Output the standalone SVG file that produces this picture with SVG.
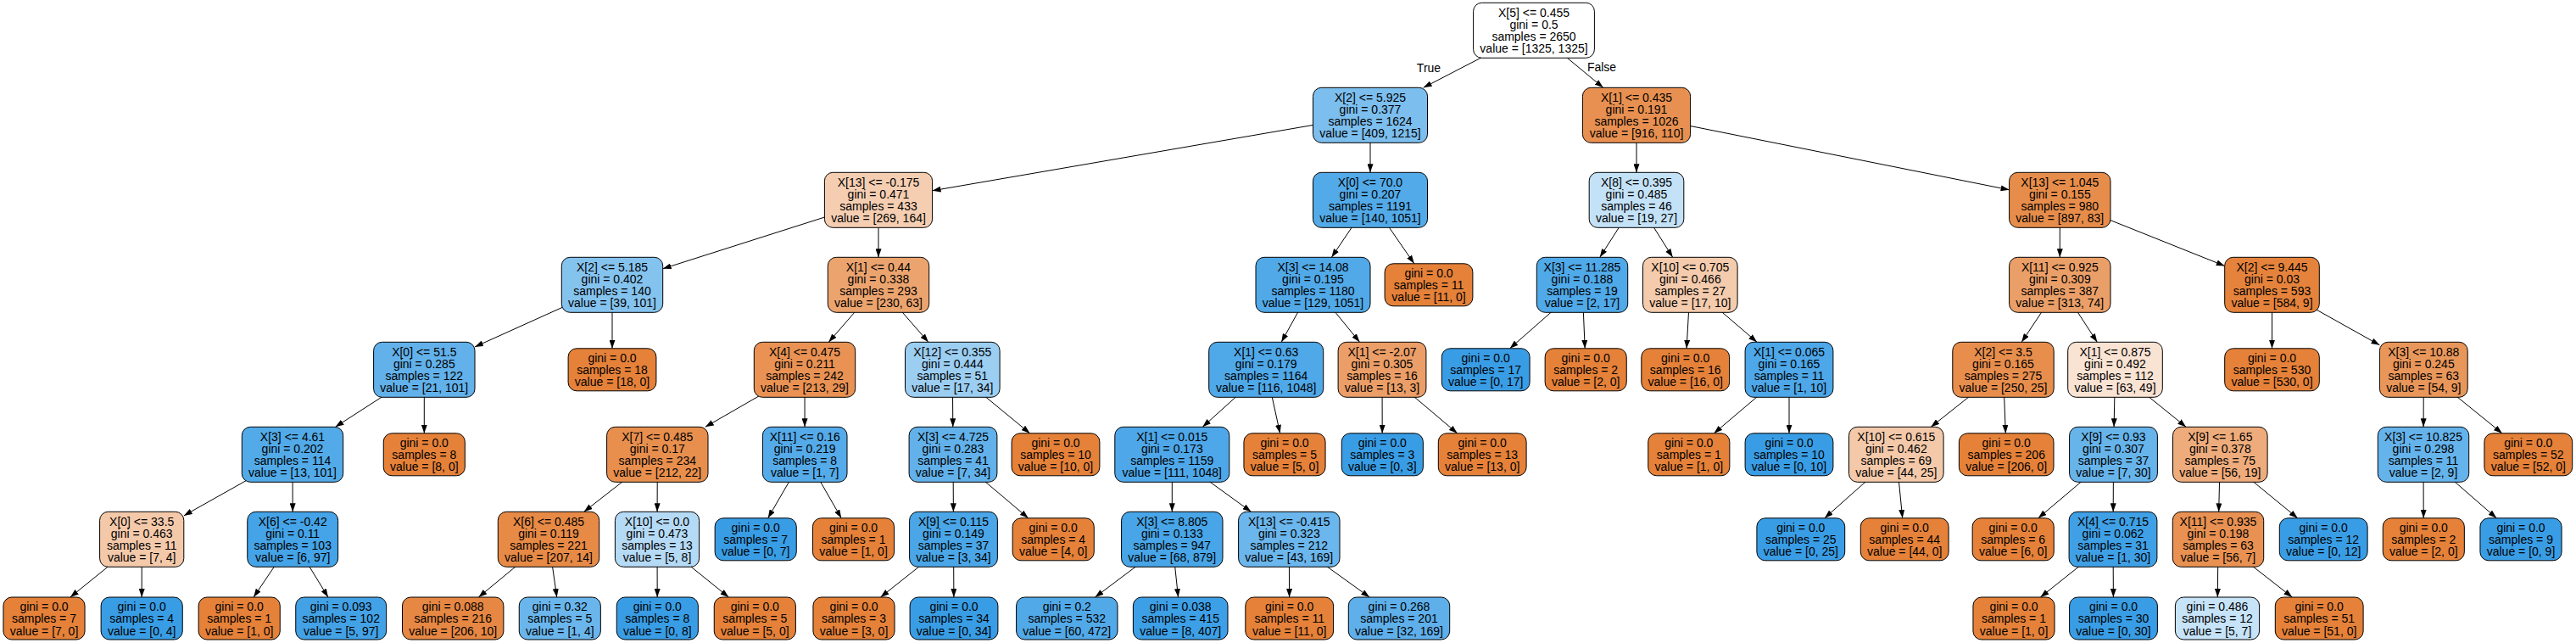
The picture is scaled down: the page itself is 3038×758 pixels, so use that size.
<svg xmlns="http://www.w3.org/2000/svg" width="3038" height="758" viewBox="0 0 3038 758">
<style>
rect{stroke:#000;stroke-width:1;rx:10px;ry:10px}
text{font-family:"Liberation Sans",Arial,Helvetica,sans-serif;font-size:14px;fill:#000;text-anchor:middle}
.e line{stroke:#000;stroke-width:1;marker-end:url(#arr)}
.o{fill:#e58139}.b{fill:#399de5}
</style>
<defs>
<marker id="arr" viewBox="0 0 10 7" markerWidth="10" markerHeight="7" refX="10" refY="3.5" orient="auto" markerUnits="userSpaceOnUse"><path d="M0,0 L10,3.5 L0,7 z" fill="#000"/></marker>
</defs>
<rect x="0" y="0" width="3038" height="758" style="fill:#fff;stroke:none;rx:0;ry:0"/>
<g class="e" id="edges">
<line x1="1809" y1="35.8" x2="1678.7" y2="103.3"/>
<line x1="1809" y1="35.8" x2="1890.7" y2="103.3"/>
<line x1="1616" y1="135.8" x2="1099.6" y2="224.8"/>
<line x1="1616" y1="135.8" x2="1616" y2="203.3"/>
<line x1="1930" y1="135.8" x2="1930" y2="203.3"/>
<line x1="1930" y1="135.8" x2="2369.6" y2="223.8"/>
<line x1="1036" y1="235.8" x2="781.7" y2="316.8"/>
<line x1="1036" y1="235.8" x2="1036" y2="303.3"/>
<line x1="1616" y1="235.8" x2="1570.4" y2="303.3"/>
<line x1="1616" y1="235.8" x2="1667.8" y2="310.8"/>
<line x1="1930" y1="235.8" x2="1886.8" y2="303.3"/>
<line x1="1930" y1="235.8" x2="1972.7" y2="303.3"/>
<line x1="2429.3" y1="235.8" x2="2429.3" y2="303.3"/>
<line x1="2429.3" y1="235.8" x2="2623.7" y2="313.5"/>
<line x1="722" y1="335.8" x2="560" y2="408.9"/>
<line x1="722" y1="335.8" x2="722" y2="410.8"/>
<line x1="1036" y1="335.8" x2="977.3" y2="403.3"/>
<line x1="1036" y1="335.8" x2="1094.9" y2="403.3"/>
<line x1="1548.5" y1="335.8" x2="1511.2" y2="403.3"/>
<line x1="1548.5" y1="335.8" x2="1603.5" y2="403.3"/>
<line x1="1866" y1="335.8" x2="1780.7" y2="410.8"/>
<line x1="1866" y1="335.8" x2="1869.2" y2="410.8"/>
<line x1="1993.3" y1="335.8" x2="1989.1" y2="410.8"/>
<line x1="1993.3" y1="335.8" x2="2072.1" y2="403.3"/>
<line x1="2429.3" y1="335.8" x2="2384.2" y2="403.3"/>
<line x1="2429.3" y1="335.8" x2="2473.3" y2="403.3"/>
<line x1="2679.5" y1="335.8" x2="2679.5" y2="410.8"/>
<line x1="2679.5" y1="335.8" x2="2806.4" y2="406.8"/>
<line x1="500.3" y1="435.8" x2="395.5" y2="503.3"/>
<line x1="500.3" y1="435.8" x2="500.3" y2="510.8"/>
<line x1="949" y1="435.8" x2="831.8" y2="503.3"/>
<line x1="949" y1="435.8" x2="949.1" y2="503.3"/>
<line x1="1123.3" y1="435.8" x2="1123.8" y2="503.3"/>
<line x1="1123.3" y1="435.8" x2="1214.6" y2="510.8"/>
<line x1="1493.2" y1="435.8" x2="1418.3" y2="503.3"/>
<line x1="1493.2" y1="435.8" x2="1509.6" y2="510.8"/>
<line x1="1630" y1="435.8" x2="1630.2" y2="510.8"/>
<line x1="1630" y1="435.8" x2="1718.7" y2="510.8"/>
<line x1="2110" y1="435.8" x2="2021.4" y2="510.8"/>
<line x1="2110" y1="435.8" x2="2110" y2="510.8"/>
<line x1="2362.5" y1="435.8" x2="2277.3" y2="503.3"/>
<line x1="2362.5" y1="435.8" x2="2365.3" y2="510.8"/>
<line x1="2494.5" y1="435.8" x2="2493.1" y2="503.3"/>
<line x1="2494.5" y1="435.8" x2="2578.1" y2="503.3"/>
<line x1="2858.3" y1="435.8" x2="2858.1" y2="503.3"/>
<line x1="2858.3" y1="435.8" x2="2950.9" y2="510.8"/>
<line x1="345" y1="535.8" x2="216.8" y2="607.9"/>
<line x1="345" y1="535.8" x2="345.2" y2="603.3"/>
<line x1="775.3" y1="535.8" x2="688.7" y2="603.3"/>
<line x1="775.3" y1="535.8" x2="775.1" y2="603.3"/>
<line x1="949.2" y1="535.8" x2="905.7" y2="610.8"/>
<line x1="949.2" y1="535.8" x2="992.2" y2="610.8"/>
<line x1="1124" y1="535.8" x2="1124.4" y2="603.3"/>
<line x1="1124" y1="535.8" x2="1212.7" y2="610.8"/>
<line x1="1382.3" y1="535.8" x2="1382.3" y2="603.3"/>
<line x1="1382.3" y1="535.8" x2="1475.5" y2="603.3"/>
<line x1="2236.3" y1="535.8" x2="2151.9" y2="610.8"/>
<line x1="2236.3" y1="535.8" x2="2243.7" y2="610.8"/>
<line x1="2492.5" y1="535.8" x2="2403.8" y2="610.8"/>
<line x1="2492.5" y1="535.8" x2="2492.2" y2="603.3"/>
<line x1="2618.3" y1="535.8" x2="2616.7" y2="603.3"/>
<line x1="2618.3" y1="535.8" x2="2709.7" y2="610.8"/>
<line x1="2858" y1="535.8" x2="2858.2" y2="610.8"/>
<line x1="2858" y1="535.8" x2="2944.3" y2="610.8"/>
<line x1="167.2" y1="635.8" x2="82.9" y2="704"/>
<line x1="167.2" y1="635.8" x2="167.2" y2="704"/>
<line x1="345.2" y1="635.8" x2="299.1" y2="704"/>
<line x1="345.2" y1="635.8" x2="387" y2="704"/>
<line x1="647" y1="635.8" x2="564.4" y2="704"/>
<line x1="647" y1="635.8" x2="656.7" y2="704"/>
<line x1="775" y1="635.8" x2="775.2" y2="704"/>
<line x1="775" y1="635.8" x2="859.4" y2="704"/>
<line x1="1124.5" y1="635.8" x2="1038.5" y2="704"/>
<line x1="1124.5" y1="635.8" x2="1124.9" y2="704"/>
<line x1="1382.3" y1="635.8" x2="1291.5" y2="704"/>
<line x1="1382.3" y1="635.8" x2="1389.5" y2="704"/>
<line x1="1520.3" y1="635.8" x2="1520.6" y2="704"/>
<line x1="1520.3" y1="635.8" x2="1615.2" y2="704"/>
<line x1="2492" y1="635.8" x2="2406.4" y2="704"/>
<line x1="2492" y1="635.8" x2="2492.4" y2="704"/>
<line x1="2616" y1="635.8" x2="2615.3" y2="704"/>
<line x1="2616" y1="635.8" x2="2703.3" y2="704"/>
<text x="1685" y="85">True</text>
<text x="1889" y="84">False</text>
</g>
<g id="n0"><rect x="1737.6" y="3.3" width="142.8" height="65" fill="#ffffff"/><text><tspan x="1809" y="20">X[5] &lt;= 0.455</tspan><tspan x="1809" y="34.1">gini = 0.5</tspan><tspan x="1809" y="48.2">samples = 2650</tspan><tspan x="1809" y="62.3">value = [1325, 1325]</tspan></text></g>
<g id="n1"><rect x="1548.5" y="103.3" width="135" height="65" fill="#7cbeee"/><text><tspan x="1616" y="120">X[2] &lt;= 5.925</tspan><tspan x="1616" y="134.1">gini = 0.377</tspan><tspan x="1616" y="148.2">samples = 1624</tspan><tspan x="1616" y="162.3">value = [409, 1215]</tspan></text></g>
<g id="n2"><rect x="1866.4" y="103.3" width="127.2" height="65" fill="#e89051"/><text><tspan x="1930" y="120">X[1] &lt;= 0.435</tspan><tspan x="1930" y="134.1">gini = 0.191</tspan><tspan x="1930" y="148.2">samples = 1026</tspan><tspan x="1930" y="162.3">value = [916, 110]</tspan></text></g>
<g id="n3"><rect x="972.4" y="203.3" width="127.2" height="65" fill="#f5ceb2"/><text><tspan x="1036" y="220">X[13] &lt;= -0.175</tspan><tspan x="1036" y="234.1">gini = 0.471</tspan><tspan x="1036" y="248.2">samples = 433</tspan><tspan x="1036" y="262.3">value = [269, 164]</tspan></text></g>
<g id="n4"><rect x="1548.5" y="203.3" width="135" height="65" fill="#53aae8"/><text><tspan x="1616" y="220">X[0] &lt;= 70.0</tspan><tspan x="1616" y="234.1">gini = 0.207</tspan><tspan x="1616" y="248.2">samples = 1191</tspan><tspan x="1616" y="262.3">value = [140, 1051]</tspan></text></g>
<g id="n5"><rect x="1874.2" y="203.3" width="111.6" height="65" fill="#c4e2f7"/><text><tspan x="1930" y="220">X[8] &lt;= 0.395</tspan><tspan x="1930" y="234.1">gini = 0.485</tspan><tspan x="1930" y="248.2">samples = 46</tspan><tspan x="1930" y="262.3">value = [19, 27]</tspan></text></g>
<g id="n6"><rect x="2369.6" y="203.3" width="119.4" height="65" fill="#e78d4b"/><text><tspan x="2429.3" y="220">X[13] &lt;= 1.045</tspan><tspan x="2429.3" y="234.1">gini = 0.155</tspan><tspan x="2429.3" y="248.2">samples = 980</tspan><tspan x="2429.3" y="262.3">value = [897, 83]</tspan></text></g>
<g id="n7"><rect x="662.3" y="303.3" width="119.4" height="65" fill="#85c3ef"/><text><tspan x="722" y="320">X[2] &lt;= 5.185</tspan><tspan x="722" y="334.1">gini = 0.402</tspan><tspan x="722" y="348.2">samples = 140</tspan><tspan x="722" y="362.3">value = [39, 101]</tspan></text></g>
<g id="n8"><rect x="976.3" y="303.3" width="119.4" height="65" fill="#eca46f"/><text><tspan x="1036" y="320">X[1] &lt;= 0.44</tspan><tspan x="1036" y="334.1">gini = 0.338</tspan><tspan x="1036" y="348.2">samples = 293</tspan><tspan x="1036" y="362.3">value = [230, 63]</tspan></text></g>
<g id="n9"><rect x="1481" y="303.3" width="135" height="65" fill="#51a9e8"/><text><tspan x="1548.5" y="320">X[3] &lt;= 14.08</tspan><tspan x="1548.5" y="334.1">gini = 0.195</tspan><tspan x="1548.5" y="348.2">samples = 1180</tspan><tspan x="1548.5" y="362.3">value = [129, 1051]</tspan></text></g>
<g id="n10"><rect class="o" x="1633.1" y="310.8" width="103.8" height="50"/><text><tspan x="1685" y="327.1">gini = 0.0</tspan><tspan x="1685" y="341.2">samples = 11</tspan><tspan x="1685" y="355.3">value = [11, 0]</tspan></text></g>
<g id="n11"><rect x="1812.3" y="303.3" width="107.4" height="65" fill="#50a9e8"/><text><tspan x="1866" y="320">X[3] &lt;= 11.285</tspan><tspan x="1866" y="334.1">gini = 0.188</tspan><tspan x="1866" y="348.2">samples = 19</tspan><tspan x="1866" y="362.3">value = [2, 17]</tspan></text></g>
<g id="n12"><rect x="1937.5" y="303.3" width="111.6" height="65" fill="#f4cbad"/><text><tspan x="1993.3" y="320">X[10] &lt;= 0.705</tspan><tspan x="1993.3" y="334.1">gini = 0.466</tspan><tspan x="1993.3" y="348.2">samples = 27</tspan><tspan x="1993.3" y="362.3">value = [17, 10]</tspan></text></g>
<g id="n13"><rect x="2369.6" y="303.3" width="119.4" height="65" fill="#eb9f68"/><text><tspan x="2429.3" y="320">X[11] &lt;= 0.925</tspan><tspan x="2429.3" y="334.1">gini = 0.309</tspan><tspan x="2429.3" y="348.2">samples = 387</tspan><tspan x="2429.3" y="362.3">value = [313, 74]</tspan></text></g>
<g id="n14"><rect x="2623.7" y="303.3" width="111.6" height="65" fill="#e5833c"/><text><tspan x="2679.5" y="320">X[2] &lt;= 9.445</tspan><tspan x="2679.5" y="334.1">gini = 0.03</tspan><tspan x="2679.5" y="348.2">samples = 593</tspan><tspan x="2679.5" y="362.3">value = [584, 9]</tspan></text></g>
<g id="n15"><rect x="440.6" y="403.3" width="119.4" height="65" fill="#62b1ea"/><text><tspan x="500.3" y="420">X[0] &lt;= 51.5</tspan><tspan x="500.3" y="434.1">gini = 0.285</tspan><tspan x="500.3" y="448.2">samples = 122</tspan><tspan x="500.3" y="462.3">value = [21, 101]</tspan></text></g>
<g id="n16"><rect class="o" x="670.1" y="410.8" width="103.8" height="50"/><text><tspan x="722" y="427.1">gini = 0.0</tspan><tspan x="722" y="441.2">samples = 18</tspan><tspan x="722" y="455.3">value = [18, 0]</tspan></text></g>
<g id="n17"><rect x="889.3" y="403.3" width="119.4" height="65" fill="#e99254"/><text><tspan x="949" y="420">X[4] &lt;= 0.475</tspan><tspan x="949" y="434.1">gini = 0.211</tspan><tspan x="949" y="448.2">samples = 242</tspan><tspan x="949" y="462.3">value = [213, 29]</tspan></text></g>
<g id="n18"><rect x="1067.5" y="403.3" width="111.6" height="65" fill="#9ccef2"/><text><tspan x="1123.3" y="420">X[12] &lt;= 0.355</tspan><tspan x="1123.3" y="434.1">gini = 0.444</tspan><tspan x="1123.3" y="448.2">samples = 51</tspan><tspan x="1123.3" y="462.3">value = [17, 34]</tspan></text></g>
<g id="n19"><rect x="1425.7" y="403.3" width="135" height="65" fill="#4fa8e8"/><text><tspan x="1493.2" y="420">X[1] &lt;= 0.63</tspan><tspan x="1493.2" y="434.1">gini = 0.179</tspan><tspan x="1493.2" y="448.2">samples = 1164</tspan><tspan x="1493.2" y="462.3">value = [116, 1048]</tspan></text></g>
<g id="n20"><rect x="1578.1" y="403.3" width="103.8" height="65" fill="#eb9e67"/><text><tspan x="1630" y="420">X[1] &lt;= -2.07</tspan><tspan x="1630" y="434.1">gini = 0.305</tspan><tspan x="1630" y="448.2">samples = 16</tspan><tspan x="1630" y="462.3">value = [13, 3]</tspan></text></g>
<g id="n21"><rect class="b" x="1700.3" y="410.8" width="103.8" height="50"/><text><tspan x="1752.2" y="427.1">gini = 0.0</tspan><tspan x="1752.2" y="441.2">samples = 17</tspan><tspan x="1752.2" y="455.3">value = [0, 17]</tspan></text></g>
<g id="n22"><rect class="o" x="1822.15" y="410.8" width="96.1" height="50"/><text><tspan x="1870.2" y="427.1">gini = 0.0</tspan><tspan x="1870.2" y="441.2">samples = 2</tspan><tspan x="1870.2" y="455.3">value = [2, 0]</tspan></text></g>
<g id="n23"><rect class="o" x="1935.8" y="410.8" width="103.8" height="50"/><text><tspan x="1987.7" y="427.1">gini = 0.0</tspan><tspan x="1987.7" y="441.2">samples = 16</tspan><tspan x="1987.7" y="455.3">value = [16, 0]</tspan></text></g>
<g id="n24"><rect x="2058.1" y="403.3" width="103.8" height="65" fill="#4da7e8"/><text><tspan x="2110" y="420">X[1] &lt;= 0.065</tspan><tspan x="2110" y="434.1">gini = 0.165</tspan><tspan x="2110" y="448.2">samples = 11</tspan><tspan x="2110" y="462.3">value = [1, 10]</tspan></text></g>
<g id="n25"><rect x="2302.8" y="403.3" width="119.4" height="65" fill="#e88e4d"/><text><tspan x="2362.5" y="420">X[2] &lt;= 3.5</tspan><tspan x="2362.5" y="434.1">gini = 0.165</tspan><tspan x="2362.5" y="448.2">samples = 275</tspan><tspan x="2362.5" y="462.3">value = [250, 25]</tspan></text></g>
<g id="n26"><rect x="2438.7" y="403.3" width="111.6" height="65" fill="#f9e3d3"/><text><tspan x="2494.5" y="420">X[1] &lt;= 0.875</tspan><tspan x="2494.5" y="434.1">gini = 0.492</tspan><tspan x="2494.5" y="448.2">samples = 112</tspan><tspan x="2494.5" y="462.3">value = [63, 49]</tspan></text></g>
<g id="n27"><rect class="o" x="2623.7" y="410.8" width="111.6" height="50"/><text><tspan x="2679.5" y="427.1">gini = 0.0</tspan><tspan x="2679.5" y="441.2">samples = 530</tspan><tspan x="2679.5" y="455.3">value = [530, 0]</tspan></text></g>
<g id="n28"><rect x="2806.4" y="403.3" width="103.8" height="65" fill="#e9965a"/><text><tspan x="2858.3" y="420">X[3] &lt;= 10.88</tspan><tspan x="2858.3" y="434.1">gini = 0.245</tspan><tspan x="2858.3" y="448.2">samples = 63</tspan><tspan x="2858.3" y="462.3">value = [54, 9]</tspan></text></g>
<g id="n29"><rect x="285.3" y="503.3" width="119.4" height="65" fill="#52aae8"/><text><tspan x="345" y="520">X[3] &lt;= 4.61</tspan><tspan x="345" y="534.1">gini = 0.202</tspan><tspan x="345" y="548.2">samples = 114</tspan><tspan x="345" y="562.3">value = [13, 101]</tspan></text></g>
<g id="n30"><rect class="o" x="452.25" y="510.8" width="96.1" height="50"/><text><tspan x="500.3" y="527.1">gini = 0.0</tspan><tspan x="500.3" y="541.2">samples = 8</tspan><tspan x="500.3" y="555.3">value = [8, 0]</tspan></text></g>
<g id="n31"><rect x="715.6" y="503.3" width="119.4" height="65" fill="#e88f4e"/><text><tspan x="775.3" y="520">X[7] &lt;= 0.485</tspan><tspan x="775.3" y="534.1">gini = 0.17</tspan><tspan x="775.3" y="548.2">samples = 234</tspan><tspan x="775.3" y="562.3">value = [212, 22]</tspan></text></g>
<g id="n32"><rect x="899.4" y="503.3" width="99.6" height="65" fill="#55abe9"/><text><tspan x="949.2" y="520">X[11] &lt;= 0.16</tspan><tspan x="949.2" y="534.1">gini = 0.219</tspan><tspan x="949.2" y="548.2">samples = 8</tspan><tspan x="949.2" y="562.3">value = [1, 7]</tspan></text></g>
<g id="n33"><rect x="1072.1" y="503.3" width="103.8" height="65" fill="#62b1ea"/><text><tspan x="1124" y="520">X[3] &lt;= 4.725</tspan><tspan x="1124" y="534.1">gini = 0.283</tspan><tspan x="1124" y="548.2">samples = 41</tspan><tspan x="1124" y="562.3">value = [7, 34]</tspan></text></g>
<g id="n34"><rect class="o" x="1193.1" y="510.8" width="103.8" height="50"/><text><tspan x="1245" y="527.1">gini = 0.0</tspan><tspan x="1245" y="541.2">samples = 10</tspan><tspan x="1245" y="555.3">value = [10, 0]</tspan></text></g>
<g id="n35"><rect x="1314.8" y="503.3" width="135" height="65" fill="#4ea7e8"/><text><tspan x="1382.3" y="520">X[1] &lt;= 0.015</tspan><tspan x="1382.3" y="534.1">gini = 0.173</tspan><tspan x="1382.3" y="548.2">samples = 1159</tspan><tspan x="1382.3" y="562.3">value = [111, 1048]</tspan></text></g>
<g id="n36"><rect class="o" x="1466.95" y="510.8" width="96.1" height="50"/><text><tspan x="1515" y="527.1">gini = 0.0</tspan><tspan x="1515" y="541.2">samples = 5</tspan><tspan x="1515" y="555.3">value = [5, 0]</tspan></text></g>
<g id="n37"><rect class="b" x="1582.25" y="510.8" width="96.1" height="50"/><text><tspan x="1630.3" y="527.1">gini = 0.0</tspan><tspan x="1630.3" y="541.2">samples = 3</tspan><tspan x="1630.3" y="555.3">value = [0, 3]</tspan></text></g>
<g id="n38"><rect class="o" x="1696.3" y="510.8" width="103.8" height="50"/><text><tspan x="1748.2" y="527.1">gini = 0.0</tspan><tspan x="1748.2" y="541.2">samples = 13</tspan><tspan x="1748.2" y="555.3">value = [13, 0]</tspan></text></g>
<g id="n39"><rect class="o" x="1943.75" y="510.8" width="96.1" height="50"/><text><tspan x="1991.8" y="527.1">gini = 0.0</tspan><tspan x="1991.8" y="541.2">samples = 1</tspan><tspan x="1991.8" y="555.3">value = [1, 0]</tspan></text></g>
<g id="n40"><rect class="b" x="2058.1" y="510.8" width="103.8" height="50"/><text><tspan x="2110" y="527.1">gini = 0.0</tspan><tspan x="2110" y="541.2">samples = 10</tspan><tspan x="2110" y="555.3">value = [0, 10]</tspan></text></g>
<g id="n41"><rect x="2180.5" y="503.3" width="111.6" height="65" fill="#f4c9aa"/><text><tspan x="2236.3" y="520">X[10] &lt;= 0.615</tspan><tspan x="2236.3" y="534.1">gini = 0.462</tspan><tspan x="2236.3" y="548.2">samples = 69</tspan><tspan x="2236.3" y="562.3">value = [44, 25]</tspan></text></g>
<g id="n42"><rect class="o" x="2310.4" y="510.8" width="111.6" height="50"/><text><tspan x="2366.2" y="527.1">gini = 0.0</tspan><tspan x="2366.2" y="541.2">samples = 206</tspan><tspan x="2366.2" y="555.3">value = [206, 0]</tspan></text></g>
<g id="n43"><rect x="2440.6" y="503.3" width="103.8" height="65" fill="#67b4eb"/><text><tspan x="2492.5" y="520">X[9] &lt;= 0.93</tspan><tspan x="2492.5" y="534.1">gini = 0.307</tspan><tspan x="2492.5" y="548.2">samples = 37</tspan><tspan x="2492.5" y="562.3">value = [7, 30]</tspan></text></g>
<g id="n44"><rect x="2562.5" y="503.3" width="111.6" height="65" fill="#eeac7c"/><text><tspan x="2618.3" y="520">X[9] &lt;= 1.65</tspan><tspan x="2618.3" y="534.1">gini = 0.378</tspan><tspan x="2618.3" y="548.2">samples = 75</tspan><tspan x="2618.3" y="562.3">value = [56, 19]</tspan></text></g>
<g id="n45"><rect x="2804.3" y="503.3" width="107.4" height="65" fill="#65b3eb"/><text><tspan x="2858" y="520">X[3] &lt;= 10.825</tspan><tspan x="2858" y="534.1">gini = 0.298</tspan><tspan x="2858" y="548.2">samples = 11</tspan><tspan x="2858" y="562.3">value = [2, 9]</tspan></text></g>
<g id="n46"><rect class="o" x="2929.9" y="510.8" width="103.8" height="50"/><text><tspan x="2981.8" y="527.1">gini = 0.0</tspan><tspan x="2981.8" y="541.2">samples = 52</tspan><tspan x="2981.8" y="555.3">value = [52, 0]</tspan></text></g>
<g id="n47"><rect x="117.6" y="603.3" width="99.2" height="65" fill="#f4c9aa"/><text><tspan x="167.2" y="620">X[0] &lt;= 33.5</tspan><tspan x="167.2" y="634.1">gini = 0.463</tspan><tspan x="167.2" y="648.2">samples = 11</tspan><tspan x="167.2" y="662.3">value = [7, 4]</tspan></text></g>
<g id="n48"><rect x="291.75" y="603.3" width="106.9" height="65" fill="#45a3e7"/><text><tspan x="345.2" y="620">X[6] &lt;= -0.42</tspan><tspan x="345.2" y="634.1">gini = 0.11</tspan><tspan x="345.2" y="648.2">samples = 103</tspan><tspan x="345.2" y="662.3">value = [6, 97]</tspan></text></g>
<g id="n49"><rect x="587.3" y="603.3" width="119.4" height="65" fill="#e78a46"/><text><tspan x="647" y="620">X[6] &lt;= 0.485</tspan><tspan x="647" y="634.1">gini = 0.119</tspan><tspan x="647" y="648.2">samples = 221</tspan><tspan x="647" y="662.3">value = [207, 14]</tspan></text></g>
<g id="n50"><rect x="725.4" y="603.3" width="99.2" height="65" fill="#b5daf5"/><text><tspan x="775" y="620">X[10] &lt;= 0.0</tspan><tspan x="775" y="634.1">gini = 0.473</tspan><tspan x="775" y="648.2">samples = 13</tspan><tspan x="775" y="662.3">value = [5, 8]</tspan></text></g>
<g id="n51"><rect class="b" x="843.15" y="610.8" width="96.1" height="50"/><text><tspan x="891.2" y="627.1">gini = 0.0</tspan><tspan x="891.2" y="641.2">samples = 7</tspan><tspan x="891.2" y="655.3">value = [0, 7]</tspan></text></g>
<g id="n52"><rect class="o" x="958.45" y="610.8" width="96.1" height="50"/><text><tspan x="1006.5" y="627.1">gini = 0.0</tspan><tspan x="1006.5" y="641.2">samples = 1</tspan><tspan x="1006.5" y="655.3">value = [1, 0]</tspan></text></g>
<g id="n53"><rect x="1072.6" y="603.3" width="103.8" height="65" fill="#4aa6e7"/><text><tspan x="1124.5" y="620">X[9] &lt;= 0.115</tspan><tspan x="1124.5" y="634.1">gini = 0.149</tspan><tspan x="1124.5" y="648.2">samples = 37</tspan><tspan x="1124.5" y="662.3">value = [3, 34]</tspan></text></g>
<g id="n54"><rect class="o" x="1194.15" y="610.8" width="96.1" height="50"/><text><tspan x="1242.2" y="627.1">gini = 0.0</tspan><tspan x="1242.2" y="641.2">samples = 4</tspan><tspan x="1242.2" y="655.3">value = [4, 0]</tspan></text></g>
<g id="n55"><rect x="1322.6" y="603.3" width="119.4" height="65" fill="#48a5e7"/><text><tspan x="1382.3" y="620">X[3] &lt;= 8.805</tspan><tspan x="1382.3" y="634.1">gini = 0.133</tspan><tspan x="1382.3" y="648.2">samples = 947</tspan><tspan x="1382.3" y="662.3">value = [68, 879]</tspan></text></g>
<g id="n56"><rect x="1460.6" y="603.3" width="119.4" height="65" fill="#6bb6ec"/><text><tspan x="1520.3" y="620">X[13] &lt;= -0.415</tspan><tspan x="1520.3" y="634.1">gini = 0.323</tspan><tspan x="1520.3" y="648.2">samples = 212</tspan><tspan x="1520.3" y="662.3">value = [43, 169]</tspan></text></g>
<g id="n57"><rect class="b" x="2071.9" y="610.8" width="103.8" height="50"/><text><tspan x="2123.8" y="627.1">gini = 0.0</tspan><tspan x="2123.8" y="641.2">samples = 25</tspan><tspan x="2123.8" y="655.3">value = [0, 25]</tspan></text></g>
<g id="n58"><rect class="o" x="2194.3" y="610.8" width="103.8" height="50"/><text><tspan x="2246.2" y="627.1">gini = 0.0</tspan><tspan x="2246.2" y="641.2">samples = 44</tspan><tspan x="2246.2" y="655.3">value = [44, 0]</tspan></text></g>
<g id="n59"><rect class="o" x="2326.15" y="610.8" width="96.1" height="50"/><text><tspan x="2374.2" y="627.1">gini = 0.0</tspan><tspan x="2374.2" y="641.2">samples = 6</tspan><tspan x="2374.2" y="655.3">value = [6, 0]</tspan></text></g>
<g id="n60"><rect x="2440.1" y="603.3" width="103.8" height="65" fill="#40a0e6"/><text><tspan x="2492" y="620">X[4] &lt;= 0.715</tspan><tspan x="2492" y="634.1">gini = 0.062</tspan><tspan x="2492" y="648.2">samples = 31</tspan><tspan x="2492" y="662.3">value = [1, 30]</tspan></text></g>
<g id="n61"><rect x="2562.3" y="603.3" width="107.4" height="65" fill="#e89152"/><text><tspan x="2616" y="620">X[11] &lt;= 0.935</tspan><tspan x="2616" y="634.1">gini = 0.198</tspan><tspan x="2616" y="648.2">samples = 63</tspan><tspan x="2616" y="662.3">value = [56, 7]</tspan></text></g>
<g id="n62"><rect class="b" x="2688.3" y="610.8" width="103.8" height="50"/><text><tspan x="2740.2" y="627.1">gini = 0.0</tspan><tspan x="2740.2" y="641.2">samples = 12</tspan><tspan x="2740.2" y="655.3">value = [0, 12]</tspan></text></g>
<g id="n63"><rect class="o" x="2810.25" y="610.8" width="96.1" height="50"/><text><tspan x="2858.3" y="627.1">gini = 0.0</tspan><tspan x="2858.3" y="641.2">samples = 2</tspan><tspan x="2858.3" y="655.3">value = [2, 0]</tspan></text></g>
<g id="n64"><rect class="b" x="2924.95" y="610.8" width="96.1" height="50"/><text><tspan x="2973" y="627.1">gini = 0.0</tspan><tspan x="2973" y="641.2">samples = 9</tspan><tspan x="2973" y="655.3">value = [0, 9]</tspan></text></g>
<g id="n65"><rect class="o" x="3.95" y="704" width="96.1" height="50"/><text><tspan x="52" y="720.3">gini = 0.0</tspan><tspan x="52" y="734.4">samples = 7</tspan><tspan x="52" y="748.5">value = [7, 0]</tspan></text></g>
<g id="n66"><rect class="b" x="119.15" y="704" width="96.1" height="50"/><text><tspan x="167.2" y="720.3">gini = 0.0</tspan><tspan x="167.2" y="734.4">samples = 4</tspan><tspan x="167.2" y="748.5">value = [0, 4]</tspan></text></g>
<g id="n67"><rect class="o" x="234.15" y="704" width="96.1" height="50"/><text><tspan x="282.2" y="720.3">gini = 0.0</tspan><tspan x="282.2" y="734.4">samples = 1</tspan><tspan x="282.2" y="748.5">value = [1, 0]</tspan></text></g>
<g id="n68"><rect x="348.75" y="704" width="106.9" height="50" fill="#43a2e6"/><text><tspan x="402.2" y="720.3">gini = 0.093</tspan><tspan x="402.2" y="734.4">samples = 102</tspan><tspan x="402.2" y="748.5">value = [5, 97]</tspan></text></g>
<g id="n69"><rect x="474.5" y="704" width="119.4" height="50" fill="#e68743"/><text><tspan x="534.2" y="720.3">gini = 0.088</tspan><tspan x="534.2" y="734.4">samples = 216</tspan><tspan x="534.2" y="748.5">value = [206, 10]</tspan></text></g>
<g id="n70"><rect x="612.25" y="704" width="96.1" height="50" fill="#6ab6ec"/><text><tspan x="660.3" y="720.3">gini = 0.32</tspan><tspan x="660.3" y="734.4">samples = 5</tspan><tspan x="660.3" y="748.5">value = [1, 4]</tspan></text></g>
<g id="n71"><rect class="b" x="727.25" y="704" width="96.1" height="50"/><text><tspan x="775.3" y="720.3">gini = 0.0</tspan><tspan x="775.3" y="734.4">samples = 8</tspan><tspan x="775.3" y="748.5">value = [0, 8]</tspan></text></g>
<g id="n72"><rect class="o" x="842.25" y="704" width="96.1" height="50"/><text><tspan x="890.3" y="720.3">gini = 0.0</tspan><tspan x="890.3" y="734.4">samples = 5</tspan><tspan x="890.3" y="748.5">value = [5, 0]</tspan></text></g>
<g id="n73"><rect class="o" x="958.95" y="704" width="96.1" height="50"/><text><tspan x="1007" y="720.3">gini = 0.0</tspan><tspan x="1007" y="734.4">samples = 3</tspan><tspan x="1007" y="748.5">value = [3, 0]</tspan></text></g>
<g id="n74"><rect class="b" x="1073.1" y="704" width="103.8" height="50"/><text><tspan x="1125" y="720.3">gini = 0.0</tspan><tspan x="1125" y="734.4">samples = 34</tspan><tspan x="1125" y="748.5">value = [0, 34]</tspan></text></g>
<g id="n75"><rect x="1198.6" y="704" width="119.4" height="50" fill="#52a9e8"/><text><tspan x="1258.3" y="720.3">gini = 0.2</tspan><tspan x="1258.3" y="734.4">samples = 532</tspan><tspan x="1258.3" y="748.5">value = [60, 472]</tspan></text></g>
<g id="n76"><rect x="1336.4" y="704" width="111.6" height="50" fill="#3d9fe6"/><text><tspan x="1392.2" y="720.3">gini = 0.038</tspan><tspan x="1392.2" y="734.4">samples = 415</tspan><tspan x="1392.2" y="748.5">value = [8, 407]</tspan></text></g>
<g id="n77"><rect class="o" x="1468.8" y="704" width="103.8" height="50"/><text><tspan x="1520.7" y="720.3">gini = 0.0</tspan><tspan x="1520.7" y="734.4">samples = 11</tspan><tspan x="1520.7" y="748.5">value = [11, 0]</tspan></text></g>
<g id="n78"><rect x="1590.3" y="704" width="119.4" height="50" fill="#5eafea"/><text><tspan x="1650" y="720.3">gini = 0.268</tspan><tspan x="1650" y="734.4">samples = 201</tspan><tspan x="1650" y="748.5">value = [32, 169]</tspan></text></g>
<g id="n79"><rect class="o" x="2326.95" y="704" width="96.1" height="50"/><text><tspan x="2375" y="720.3">gini = 0.0</tspan><tspan x="2375" y="734.4">samples = 1</tspan><tspan x="2375" y="748.5">value = [1, 0]</tspan></text></g>
<g id="n80"><rect class="b" x="2440.6" y="704" width="103.8" height="50"/><text><tspan x="2492.5" y="720.3">gini = 0.0</tspan><tspan x="2492.5" y="734.4">samples = 30</tspan><tspan x="2492.5" y="748.5">value = [0, 30]</tspan></text></g>
<g id="n81"><rect x="2565.4" y="704" width="99.2" height="50" fill="#c6e3f8"/><text><tspan x="2615" y="720.3">gini = 0.486</tspan><tspan x="2615" y="734.4">samples = 12</tspan><tspan x="2615" y="748.5">value = [5, 7]</tspan></text></g>
<g id="n82"><rect class="o" x="2683.3" y="704" width="103.8" height="50"/><text><tspan x="2735.2" y="720.3">gini = 0.0</tspan><tspan x="2735.2" y="734.4">samples = 51</tspan><tspan x="2735.2" y="748.5">value = [51, 0]</tspan></text></g>
</svg>
